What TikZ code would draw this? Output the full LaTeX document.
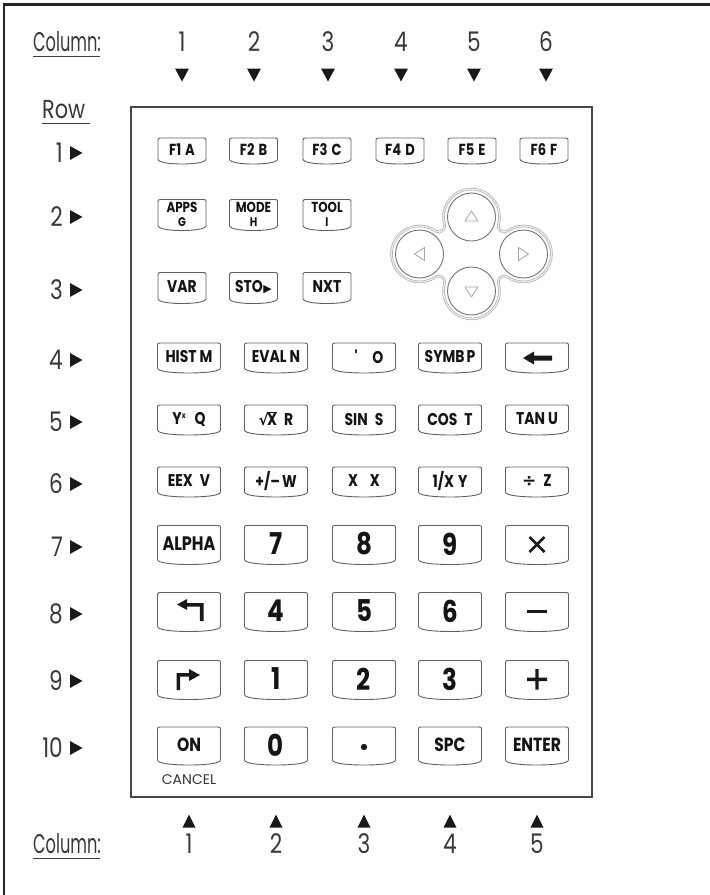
\documentclass[tikz,border=0pt]{standalone}
\usepackage{fontspec}
\newfontfamily\lab{Poppins}[FakeStretch=0.6]
\newfontfamily\labw{Poppins}[FakeStretch=0.8]
\newfontfamily\kf{Poppins}[FakeStretch=0.82]
\newfontfamily\cf{Poppins}[FakeStretch=1.0]
\newfontfamily\sym{DejaVu Sans}
\newcommand\fs[1]{\fontsize{#1}{#1}\selectfont}
\tikzset{
  keyline/.style={draw=black!62, line width=0.9pt},
  keylab/.style={inner sep=0pt, text=black!92, font=\kf\bfseries\fs{17}, align=center},
  axlab/.style={inner sep=0pt, text=black!78, font=\lab\fs{27}},
  axnum/.style={inner sep=0pt, text=black!78, font=\labw\fs{27}},
  ulin/.style={draw=black!75, line width=1.4pt},
  tri/.style={fill=black!90},
  sy/.style={fill=black!90},
  dpout/.style={draw=gray!60, line width=0.7pt, double=gray!15, double distance=1.2pt},
  dpin/.style={draw=black!55, line width=0.9pt},
  dptri/.style={draw=gray!70, line width=0.8pt, line join=round},
}
\newcommand\ckey[6]{%
  \pgfmathsetmacro\kL{#2-#4/2}\pgfmathsetmacro\kR{#2+#4/2}%
  \pgfmathsetmacro\kT{#3-#5/2}\pgfmathsetmacro\kB{#3+#5/2}%
  \pgfmathsetmacro\kS{\kB-5}\pgfmathsetmacro\kQ{#4*0.3}%
  \draw[keyline] (\kL,\kS) -- (\kL,\kT+4) .. controls (\kL,\kT) .. (\kL+4,\kT)
     -- (\kR-4,\kT) .. controls (\kR,\kT) .. (\kR,\kT+4) -- (\kR,\kS)
     .. controls (\kR,\kB-1) and (\kR-\kQ,\kB) .. (#2,\kB)
     .. controls (\kL+\kQ,\kB) and (\kL,\kB-1) .. (\kL,\kS) -- cycle;
  \node[keylab] (#1) at (#2,#3-1) {#6};
}
\newcommand\tdown[2]{\fill[tri] (#1-7,#2-6.5) -- (#1+7,#2-6.5) -- (#1,#2+6.5) -- cycle;}
\newcommand\tup[2]{\fill[tri] (#1-6.5,#2+6.5) -- (#1+6.5,#2+6.5) -- (#1,#2-6.5) -- cycle;}
\newcommand\tright[2]{\fill[tri] (#1-6,#2-7) -- (#1+6.5,#2) -- (#1-6,#2+7) -- cycle;}
\begin{document}
\begin{tikzpicture}[x=1pt,y=-1pt]
\useasboundingbox (0,0) rectangle (710,895);
\fill[white] (0,0) rectangle (710,895);
% outer frame lines
\draw[line width=2.6pt, black!85] (4,895) -- (4,4.5) -- (710,4.5);
% inner frame
\draw[line width=1.8pt, black!72] (131,107) rectangle (592,797);

% top column header
\node[axlab, anchor=base west] (ctop) at (33,51) {Column:};
\draw[ulin] (33,56.5) -- (100,56.5);
\foreach \n/\x in {1/182,2/254,3/328,4/401,5/474,6/546}{
  \node[axnum, anchor=base] (ct\n) at (\x,51) {\n};
  \tdown{\x}{75}
}
% row header
\node[axnum, anchor=base west, font=\labw\fs{26}] (rowh) at (42,118) {Row};
\draw[ulin] (42,123.5) -- (90,123.5);
\foreach \n/\y in {1/153,2/217,3/290,4/360,5/422,6/484,7/547,8/614,9/681,10/748}{
  \node[axnum, anchor=east] (rl\n) at (63,\y) {\n};
  \tright{76}{\y}
}
% bottom column header
\node[axlab, anchor=base west] (cbot) at (33,853) {Column:};
\draw[ulin] (33,858.5) -- (100,858.5);
\foreach \n/\x in {1/189,2/276,3/364,4/450,5/537}{
  \node[axnum, anchor=base] (cb\n) at (\x,853) {\n};
  \tup{\x}{821}
}

% row 1
\ckey{kF1}{182}{151}{48}{26}{\fs{16}F1\hspace{4pt}A}
\ckey{kF2}{253.5}{151}{48}{26}{\fs{16}F2\hspace{4pt}B}
\ckey{kF3}{327}{151}{48}{26}{\fs{16}F3\hspace{4pt}C}
\ckey{kF4}{400}{151}{48}{26}{\fs{16}F4\hspace{4pt}D}
\ckey{kF5}{472}{151}{48}{26}{\fs{16}F5\hspace{4pt}E}
\ckey{kF6}{544}{151}{48}{26}{\fs{16}F6\hspace{4pt}F}
% row 2
\ckey{kapps}{182}{215}{48}{31}{\fs{14.5}APPS\\[-3pt]{\fs{12.5}G}}
\ckey{kmode}{253.5}{215}{48}{31}{\fs{14.5}MODE\\[-3pt]{\fs{12.5}H}}
\ckey{ktool}{327}{215}{48}{31}{\fs{14.5}TOOL\\[-3pt]{\fs{12.5}I}}
% row 3
\ckey{kvar}{182}{288}{48}{31}{\fs{17}VAR}
\ckey{ksto}{253.5}{288}{48}{31}{\fs{17}STO\kern0.5pt{\sym\fs{11}▶}}
\ckey{knxt}{327}{288}{48}{31}{\fs{17}NXT}
% d-pad
\begin{scope}[shift={(471.5,254)}, yscale=-1]
  \draw[dpout] (-27.03,29.70) arc[start angle=195.1, end angle=-15.1, radius=28]
    arc[start angle=164.9, end angle=304.3, radius=6]
    arc[start angle=124.3, end angle=-124.3, radius=28]
    arc[start angle=55.7, end angle=195.1, radius=6]
    arc[start angle=15.1, end angle=-195.1, radius=28]
    arc[start angle=-15.1, end angle=124.3, radius=6]
    arc[start angle=-55.7, end angle=-304.3, radius=28]
    arc[start angle=235.7, end angle=375.1, radius=6] -- cycle;
  \draw[dpin] (0,37) circle[radius=24];
  \draw[dpin] (0,-37) circle[radius=24];
  \draw[dpin] (-52,0) circle[radius=24];
  \draw[dpin] (52,0) circle[radius=24];
  \draw[dptri] (-6.5,33) -- (6.5,33) -- (0,43) -- cycle;
  \draw[dptri] (-6.5,-33) -- (6.5,-33) -- (0,-43) -- cycle;
  \draw[dptri] (-47,-6.5) -- (-47,6.5) -- (-57,0) -- cycle;
  \draw[dptri] (47,-6.5) -- (47,6.5) -- (57,0) -- cycle;
\end{scope}
% row 4
\ckey{khist}{189}{358}{63}{30}{HIST\hspace{3pt}M}
\ckey{keval}{276}{358}{63}{30}{EVAL\hspace{3pt}N}
\ckey{kquote}{364}{358}{63}{30}{\hspace{10pt}\textquotesingle\hspace{14pt}O}
\ckey{ksymb}{450}{358}{63}{30}{SYMB\hspace{2pt}P}
\ckey{kback}{537}{358}{63}{30}{}
\fill[sy] (523,358) -- (534,351.5) -- (534,355.5) -- (552,355.5) -- (552,360.5) -- (534,360.5) -- (534,364.5) -- cycle;
% row 5
\ckey{kyx}{189}{420}{63}{30}{Y\raisebox{6pt}{\fs{8}x}\hspace{9pt}Q}
\ckey{ksqrt}{276}{420}{63}{30}{{\sym\bfseries\fs{15}√}\kern-1.5pt$\overline{\hbox{X}}$\hspace{7pt}R}
\ckey{ksin}{364}{420}{63}{30}{SIN\hspace{7pt}S}
\ckey{kcos}{450}{420}{63}{30}{COS\hspace{7pt}T}
\ckey{ktan}{537}{420}{63}{30}{TAN\hspace{3pt}U}
% row 6
\ckey{keex}{189}{482}{63}{30}{EEX\hspace{7pt}V}
\ckey{kneg}{276}{482}{63}{30}{+/–\hspace{2pt}W}
\ckey{kxx}{364}{482}{63}{30}{X\hspace{12pt}X}
\ckey{kinv}{450}{482}{63}{30}{1/X\hspace{4pt}Y}
\ckey{kdiv}{537}{482}{63}{30}{{\sym\bfseries ÷}\hspace{7pt}Z}
% row 7
\ckey{kalpha}{189}{545}{63}{39}{\fs{19.5}ALPHA}
\ckey{k7}{276}{545}{63}{39}{\fs{30}7}
\ckey{k8}{364}{545}{63}{39}{\fs{30}8}
\ckey{k9}{450}{545}{63}{39}{\fs{30}9}
\ckey{kmul}{537}{545}{63}{39}{}
\draw[black!90, line width=2.8pt] (529.5,537) -- (544.5,552) (529.5,552) -- (544.5,537);
% row 8
\ckey{klsh}{189}{612}{63}{39}{}
\fill[sy] (177,604.5) -- (187,599) -- (187,603) -- (203.5,603) -- (203.5,621) -- (199.8,621) -- (199.8,606.5) -- (187,606.5) -- (187,610) -- cycle;
\ckey{k4}{276}{612}{63}{39}{\fs{30}4}
\ckey{k5}{364}{612}{63}{39}{\fs{30}5}
\ckey{k6}{450}{612}{63}{39}{\fs{30}6}
\ckey{kmin}{537}{612}{63}{39}{}
\fill[sy] (527,609.5) rectangle (547,613);
% row 9
\ckey{krsh}{189}{680}{63}{39}{}
\fill[sy] (176.5,690) -- (176.5,673) -- (189,673) -- (189,669) -- (200,675) -- (189,681) -- (189,676.6) -- (180.2,676.6) -- (180.2,690) -- cycle;
\ckey{k1}{276}{680}{63}{39}{\fs{30}1}
\ckey{k2}{364}{680}{63}{39}{\fs{30}2}
\ckey{k3}{450}{680}{63}{39}{\fs{30}3}
\ckey{kplus}{537}{680}{63}{39}{}
\fill[sy] (527,677.5) rectangle (547,681) (535.3,669) rectangle (538.7,689.5);
% row 10
\ckey{kon}{189}{746}{63}{38}{\fs{19}ON}
\node[inner sep=0pt, text=black!80, font=\cf\fs{14}] (cancel) at (189,780) {CANCEL};
\ckey{k0}{276}{746}{63}{38}{\fs{30}0}
\ckey{kdot}{364}{746}{63}{38}{}
\fill[sy] (364,747) circle[radius=3.2];
\ckey{kspc}{450}{746}{63}{38}{\fs{19}SPC}
\ckey{kenter}{537}{746}{63}{38}{\fs{19}ENTER}
\end{tikzpicture}
\end{document}
